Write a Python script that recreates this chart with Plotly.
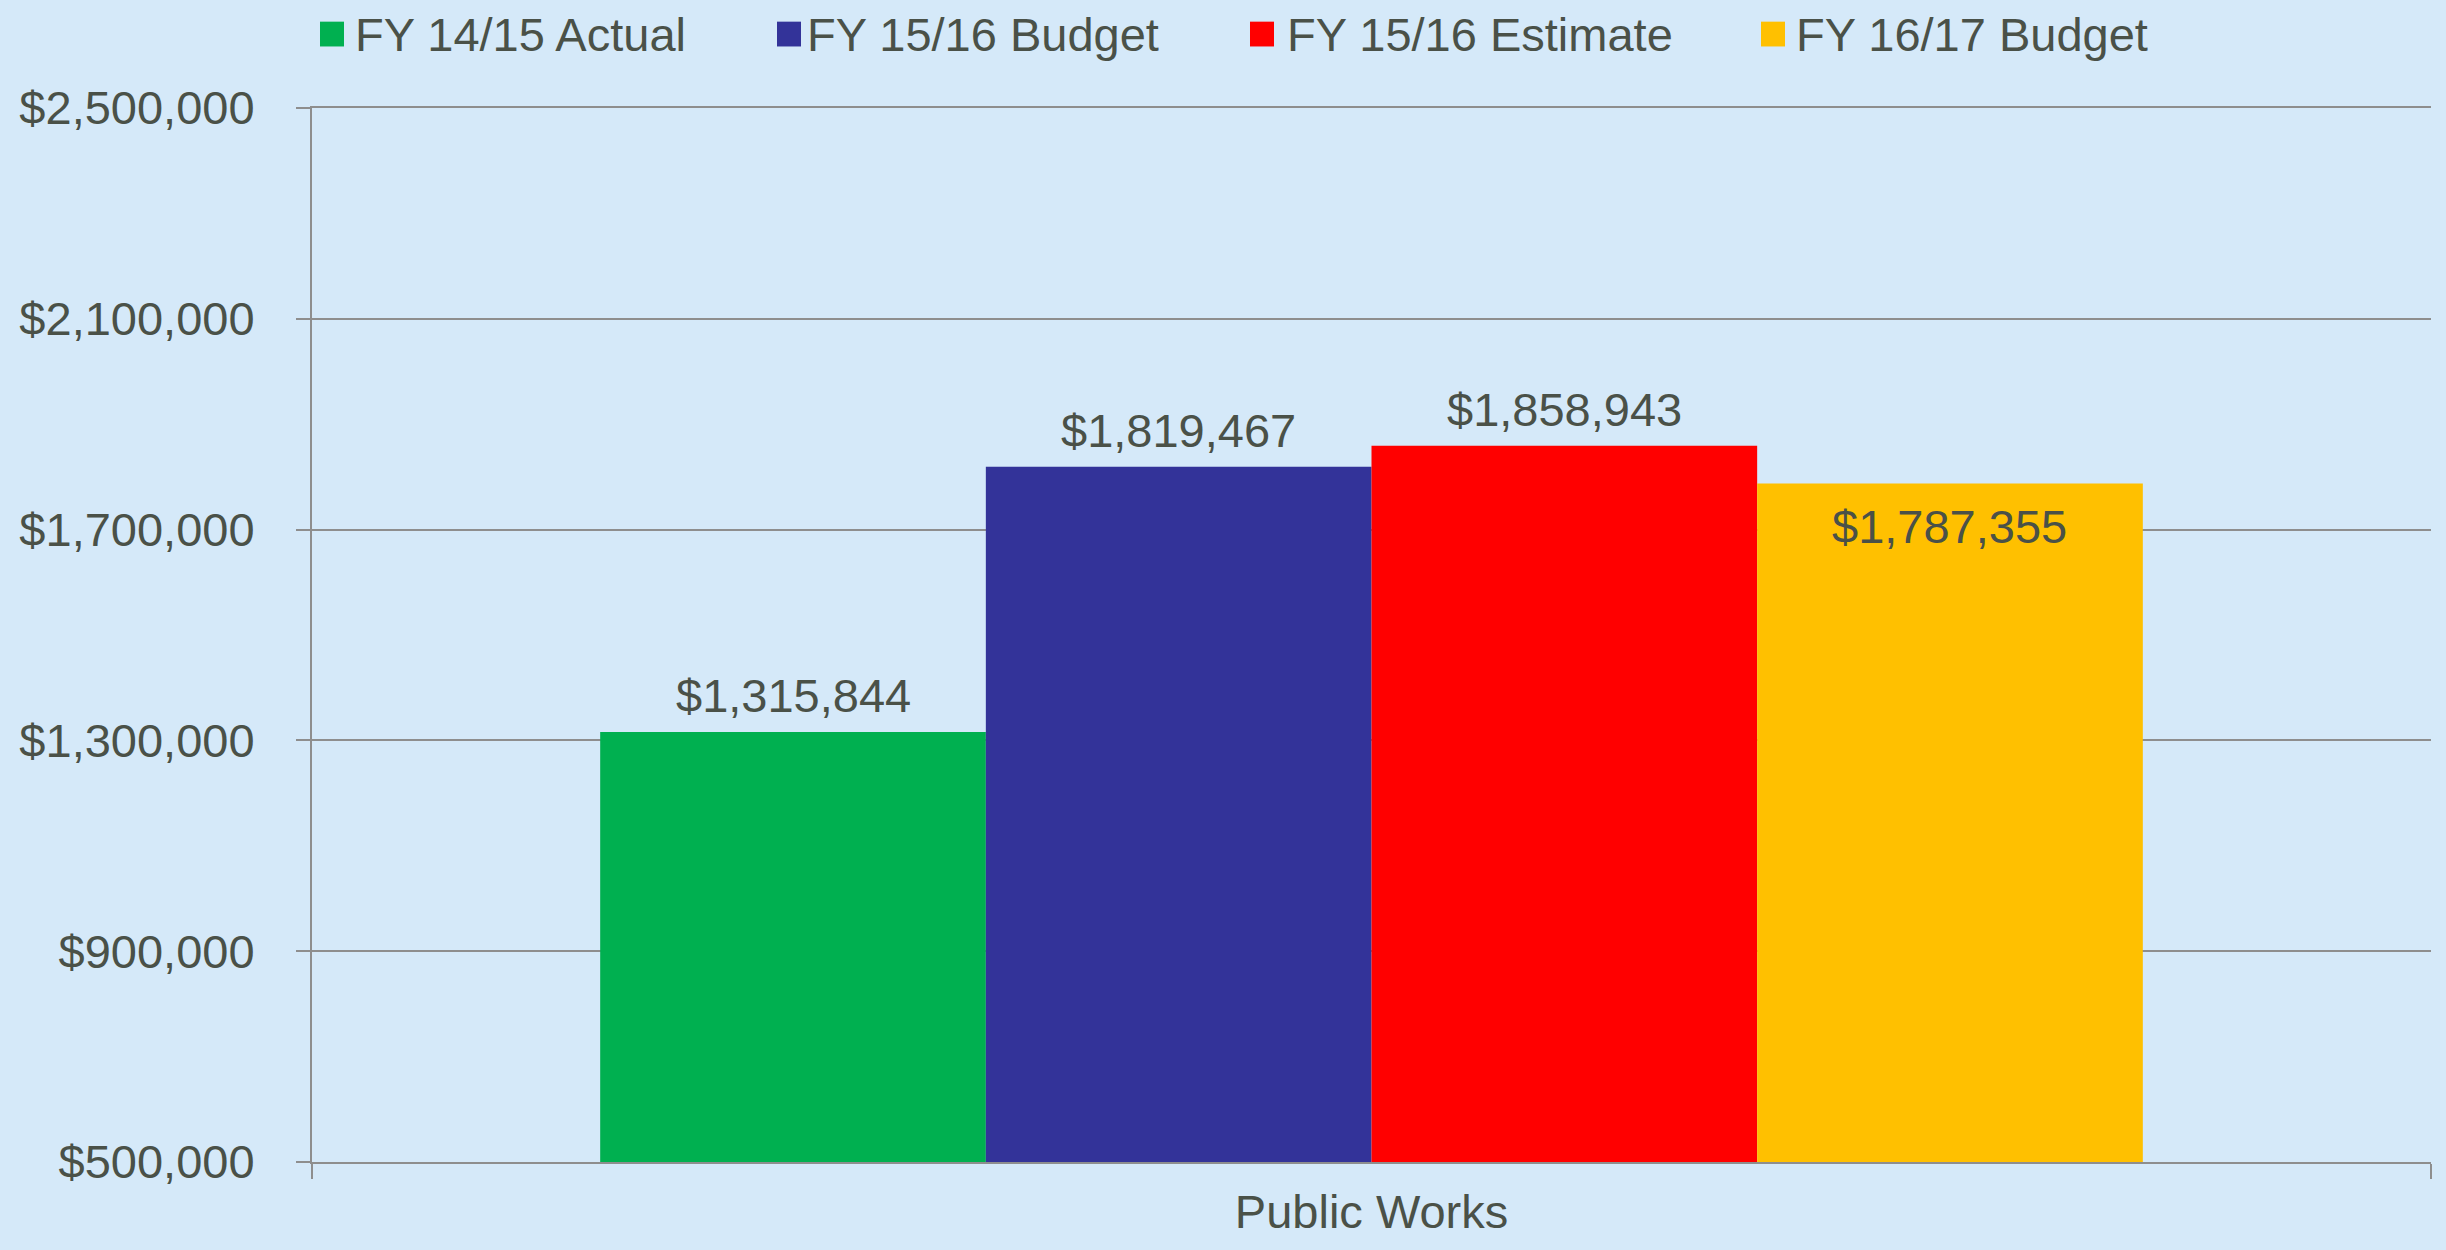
import plotly.graph_objects as go

# Data
category = ["Public Works"]
series_names = ["FY 14/15 Actual", "FY 15/16 Budget", "FY 15/16 Estimate", "FY 16/17 Budget"]
series_values = [1315844, 1819467, 1858943, 1787355]
y_ticks = [500000, 900000, 1300000, 1700000, 2100000, 2500000]

# Styling
colors = ["#00B050", "#333399", "#FF0000", "#FFC000"]
label_inside = [False, False, False, True]
TEXT = "#4A5148"
FONT = "Liberation Sans, Arial, sans-serif"
FS = 47
GRID = "#8E8E8E"
BG = "#D5E9F9"

W, H = 2446, 1250
L, R, T, B = 312, 15, 108, 80
PW, PH = W - L - R, H - T - B
BARGAP = 0.272


def paper_x(px):
    return (px - L) / PW


def paper_y(py):
    return 1 - (py - T) / PH


fig = go.Figure()
for name, val, col in zip(series_names, series_values, colors):
    fig.add_trace(go.Bar(
        x=category, y=[val], name=name, marker_color=col,
        marker_line_width=0, showlegend=False,
    ))

# value labels, one per bar, centred on each bar within the group
n = len(series_values)
bw = (1 - BARGAP) / n
annotations = []
for i, (val, inside) in enumerate(zip(series_values, label_inside)):
    xc = -(1 - BARGAP) / 2 + bw * (i + 0.5)
    annotations.append(dict(
        x=xc, y=val, xref="x", yref="y", text=f"${val:,.0f}",
        showarrow=False, font=dict(family=FONT, size=FS, color=TEXT),
        yanchor="top" if inside else "bottom",
        yshift=-14 if inside else 8,
    ))

# legend row
legend_marks = [(320, 353), (777, 805), (1250, 1285), (1761, 1794)]
shapes = []
for (mx, tx), name, col in zip(legend_marks, series_names, colors):
    shapes.append(dict(
        type="rect", xref="paper", yref="paper",
        x0=paper_x(mx), x1=paper_x(mx + 24),
        y0=paper_y(46), y1=paper_y(21),
        fillcolor=col, line_width=0,
    ))
    annotations.append(dict(
        x=paper_x(tx), y=paper_y(34), xref="paper", yref="paper",
        xanchor="left", yanchor="middle", text=name, showarrow=False,
        font=dict(family=FONT, size=FS, color=TEXT),
    ))

fig.update_layout(
    width=W, height=H,
    margin=dict(l=L, r=R, t=T, b=B, pad=0),
    paper_bgcolor=BG, plot_bgcolor=BG,
    barmode="group", bargap=BARGAP, bargroupgap=0,
    font=dict(family=FONT, size=FS, color=TEXT),
    annotations=annotations, shapes=shapes,
    showlegend=False,
)
fig.update_yaxes(
    range=[y_ticks[0], y_ticks[-1]], tickvals=y_ticks,
    ticktext=[f"${v:,.0f}" for v in y_ticks],
    showgrid=True, gridcolor=GRID, gridwidth=2,
    showline=True, linecolor=GRID, linewidth=2,
    ticks="outside", ticklen=14, tickcolor=GRID, tickwidth=2,
    ticklabelstandoff=32, zeroline=False,
    tickfont=dict(family=FONT, size=FS, color=TEXT),
)
fig.update_xaxes(
    showline=True, linecolor=GRID, linewidth=2, mirror=True,
    ticks="outside", ticklen=15, tickcolor=GRID, tickwidth=2,
    tickson="boundaries", showgrid=False,
    ticklabelstandoff=8,
    tickfont=dict(family=FONT, size=FS, color=TEXT),
)

fig.write_html("out.html")
